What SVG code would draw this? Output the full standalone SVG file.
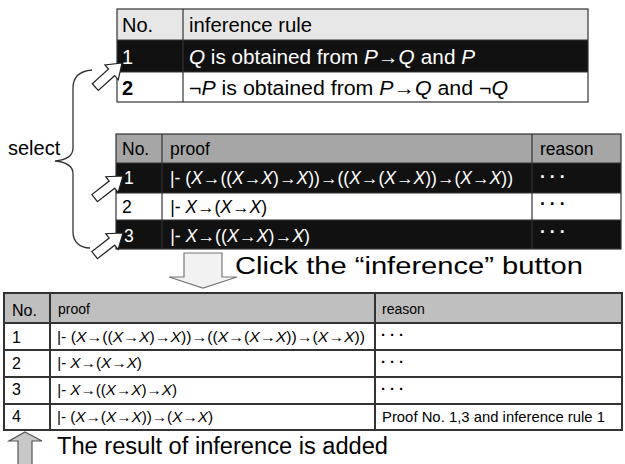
<svg xmlns="http://www.w3.org/2000/svg" width="625" height="464" viewBox="0 0 625 464">
<style>
text{font-family:"Liberation Sans",Arial,sans-serif;fill:#000}
.i{font-style:italic}
.w{fill:#fff}
.t1{font-size:20px}
.t2{font-size:17.5px}
.t3{font-size:15px}
.t3s{font-size:14px}
.t3n{font-size:16px}
.cap{font-size:23px}
.dots{font-weight:bold;letter-spacing:4px}
.grid{stroke:#333;stroke-width:1.2;fill:none}
.grid3{stroke:#333;stroke-width:2;fill:none}
.blk{fill:#111}
.sel{fill:#fff;stroke:#222;stroke-width:1.2;stroke-linejoin:miter}
</style>
<defs>
<polygon id="selArrow" points="0,0 -14,-10 -14,-4.5 -36,-4.5 -36,4.5 -14,4.5 -14,10"/>
</defs>

<!-- Top table: inference rules -->
<g id="rule-table">
<rect x="117" y="9" width="471" height="31" fill="#e6e6e6"/>
<rect x="117" y="40" width="471" height="32" class="blk"/>
<rect x="117" y="72" width="471" height="30" fill="#fff"/>
<rect x="117" y="9" width="471" height="93" class="grid"/>
<line x1="183" y1="9" x2="183" y2="102" class="grid"/>
<line x1="117" y1="40" x2="588" y2="40" class="grid"/>
<line x1="117" y1="72" x2="588" y2="72" class="grid"/>
<text x="122" y="32" class="t1">No.</text>
<text x="189" y="32" class="t1" textLength="123" lengthAdjust="spacingAndGlyphs">inference rule</text>
<text x="122" y="64" class="t1 w">1</text>
<text x="189" y="64" class="t1 w" textLength="286" lengthAdjust="spacingAndGlyphs"><tspan class="i w">Q</tspan> is obtained from <tspan class="i w">P</tspan>→<tspan class="i w">Q</tspan><tspan dx="6">and </tspan><tspan class="i w">P</tspan></text>
<text x="122" y="95" class="t1" font-weight="bold">2</text>
<text x="189" y="95" class="t1" textLength="319" lengthAdjust="spacingAndGlyphs">¬<tspan class="i">P</tspan> is obtained from <tspan class="i">P</tspan>→<tspan class="i">Q</tspan> and ¬<tspan class="i">Q</tspan></text>
</g>

<!-- Middle table: proofs before inference -->
<g id="proof-table-before">
<rect x="116" y="134" width="505" height="29" fill="#a6a6a6"/>
<rect x="116" y="163" width="505" height="30" class="blk"/>
<rect x="116" y="193" width="505" height="27" fill="#fff"/>
<rect x="116" y="220" width="505" height="29" class="blk"/>
<rect x="116" y="134" width="505" height="115" class="grid"/>
<line x1="162" y1="134" x2="162" y2="249" class="grid"/>
<line x1="532" y1="134" x2="532" y2="249" class="grid"/>
<line x1="116" y1="163" x2="621" y2="163" class="grid"/>
<line x1="116" y1="193" x2="621" y2="193" class="grid"/>
<line x1="116" y1="220" x2="621" y2="220" class="grid"/>
<text x="122" y="155" class="t2">No.</text>
<text x="170" y="155" class="t2">proof</text>
<text x="540" y="155" class="t2">reason</text>
<text x="124" y="184" class="t2 w">1</text>
<text x="170" y="184" class="t2 w" textLength="343" lengthAdjust="spacingAndGlyphs">|- (<tspan class="i w">X</tspan>→((<tspan class="i w">X</tspan>→<tspan class="i w">X</tspan>)→<tspan class="i w">X</tspan>))→((<tspan class="i w">X</tspan>→(<tspan class="i w">X</tspan>→<tspan class="i w">X</tspan>))→(<tspan class="i w">X</tspan>→<tspan class="i w">X</tspan>))</text>
<text x="540" y="183" class="t2 w dots">···</text>
<text x="122" y="213" class="t2">2</text>
<text x="170" y="213" class="t2" textLength="97" lengthAdjust="spacingAndGlyphs"><tspan class="i">|- X</tspan>→(<tspan class="i">X</tspan>→<tspan class="i">X</tspan>)</text>
<text x="540" y="210" class="t2 dots">···</text>
<text x="124" y="242" class="t2 w">3</text>
<text x="170" y="242" class="t2 w" textLength="140" lengthAdjust="spacingAndGlyphs"><tspan class="i w">|- X</tspan>→((<tspan class="i w">X</tspan>→<tspan class="i w">X</tspan>)→<tspan class="i w">X</tspan>)</text>
<text x="540" y="238" class="t2 w dots">···</text>
</g>

<!-- Bottom table: proofs after inference -->
<g id="proof-table-after">
<rect x="4" y="293" width="618" height="30" fill="#bfbfbf"/>
<rect x="4" y="323" width="618" height="107" fill="#fff"/>
<rect x="4" y="293" width="618" height="137" class="grid3"/>
<line x1="50" y1="293" x2="50" y2="430" class="grid3"/>
<line x1="375" y1="293" x2="375" y2="430" class="grid3"/>
<line x1="4" y1="323" x2="622" y2="323" class="grid3"/>
<line x1="4" y1="350" x2="622" y2="350" class="grid3"/>
<line x1="4" y1="377" x2="622" y2="377" class="grid3"/>
<line x1="4" y1="404" x2="622" y2="404" class="grid3"/>
<text x="12" y="316" class="t3n">No.</text>
<text x="58" y="314" class="t3s">proof</text>
<text x="382" y="314" class="t3s">reason</text>
<text x="12" y="343" class="t3n">1</text>
<text x="57" y="342" class="t3" textLength="308" lengthAdjust="spacingAndGlyphs">|- (<tspan class="i">X</tspan>→((<tspan class="i">X</tspan>→<tspan class="i">X</tspan>)→<tspan class="i">X</tspan>))→((<tspan class="i">X</tspan>→(<tspan class="i">X</tspan>→<tspan class="i">X</tspan>))→(<tspan class="i">X</tspan>→<tspan class="i">X</tspan>))</text>
<text x="381" y="340" class="t3 dots" letter-spacing="3">···</text>
<text x="12" y="369" class="t3n">2</text>
<text x="57" y="368" class="t3" textLength="85" lengthAdjust="spacingAndGlyphs"><tspan class="i">|- X</tspan>→(<tspan class="i">X</tspan>→<tspan class="i">X</tspan>)</text>
<text x="381" y="367" class="t3 dots" letter-spacing="3">···</text>
<text x="12" y="395" class="t3n">3</text>
<text x="57" y="395" class="t3" textLength="120" lengthAdjust="spacingAndGlyphs"><tspan class="i">|- X</tspan>→((<tspan class="i">X</tspan>→<tspan class="i">X</tspan>)→<tspan class="i">X</tspan>)</text>
<text x="381" y="394" class="t3 dots" letter-spacing="3">···</text>
<text x="12" y="422" class="t3n">4</text>
<text x="57" y="422" class="t3" textLength="156" lengthAdjust="spacingAndGlyphs">|- (<tspan class="i">X</tspan>→(<tspan class="i">X</tspan>→<tspan class="i">X</tspan>))→(<tspan class="i">X</tspan>→<tspan class="i">X</tspan>)</text>
<text x="382" y="422" class="t3" textLength="223" lengthAdjust="spacingAndGlyphs">Proof No. 1,3 and inference rule 1</text>
</g>

<!-- select label -->
<g id="select-label">
<text x="8" y="155" font-size="20px">select</text>
</g>

<!-- click caption -->
<g id="click-caption">
<path d="M184,253 L222,253 L222,277 L237,277 L203,288 L169,277 L184,277 Z" fill="#f2f2f2" stroke="#777" stroke-width="1.2"/>
<text x="235" y="274" class="cap" textLength="348" lengthAdjust="spacingAndGlyphs">Click the “inference” button</text>
</g>

<!-- result caption -->
<g id="result-caption">
<path d="M25,432 L42,441 L32,441 L32,466 L18,466 L18,441 L9,441 Z" fill="#c8c8c8" stroke="#555" stroke-width="1.2"/>
<text x="57" y="454" class="cap" textLength="331" lengthAdjust="spacingAndGlyphs">The result of inference is added</text>
</g>

<!-- connectors: selection brace and pointer arrows -->
<g id="connectors">
<path d="M92,70 C80,71 73,77 73,88 L73,148 C73,156 66,160 55,161 C66,162 73,166 73,174 L73,232 C73,242 80,248 90,248" fill="none" stroke="#333" stroke-width="1.3"/>
<use href="#selArrow" class="sel" transform="translate(122,63) rotate(-42)"/>
<use href="#selArrow" class="sel" transform="translate(123,176) rotate(-38)"/>
<use href="#selArrow" class="sel" transform="translate(123,233) rotate(-38)"/>
</g>
</svg>
